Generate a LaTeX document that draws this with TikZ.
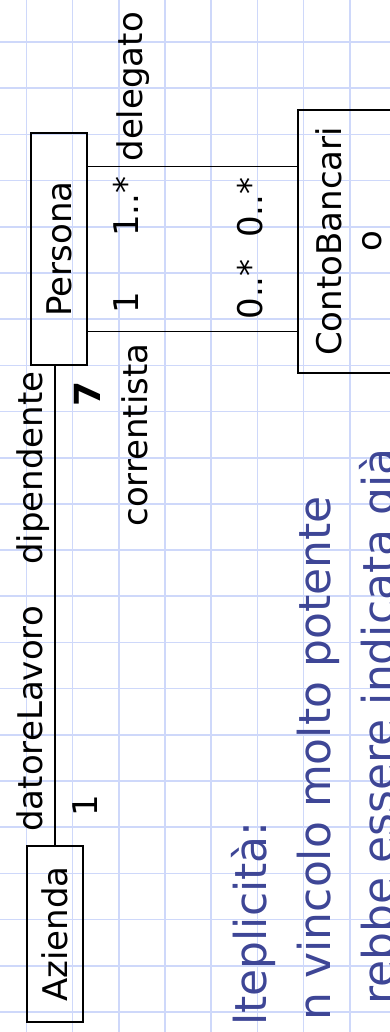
\documentclass[tikz,border=0pt]{standalone}
\usepackage{fontspec}
\setmainfont{DejaVu Sans}
\usepackage{tikz}
\usetikzlibrary{calc}
\definecolor{gridblue}{RGB}{206,216,250}
\definecolor{slideblue}{RGB}{62,70,150}
\tikzset{
    classbox/.style={draw, line width=1pt, inner sep=0pt, minimum height=28pt, font=\fontsize{17}{20}\selectfont, align=center},
    rolename/.style={inner sep=0pt, font=\fontsize{17}{20}\selectfont},
    bodytext/.style={inner sep=0pt, text=slideblue, font=\fontsize{22}{26}\selectfont},
    assoc/.style={line width=0.75pt},
    gridline/.style={gridblue, line width=0.8pt}
}

\begin{document}
\begin{tikzpicture}[x=0.5pt, y=0.5pt]
    \useasboundingbox (0,0) rectangle (390,1032);
    \clip (0,0) rectangle (390,1032);
    \begin{scope}[rotate=90, transform shape]
    % squared paper of the slide
    \foreach \i in {0,...,22}
        \draw[gridline] ({20+46.19*\i},10) -- ({20+46.19*\i},-400);
    \foreach \j in {0,...,8}
        \draw[gridline] (-10,{-26.5-46.19*\j}) -- (1040,{-26.5-46.19*\j});

    % classes
    \node (azienda) [classbox, minimum width=88pt] at (98,-55) {Azienda};
    \node (persona) [classbox, minimum width=116pt] at (783,-59) {Persona};
    \node (conto) [classbox, minimum width=131.5pt, anchor=north, inner ysep=8.8pt] at (790.5,-297) {ContoBancari\\o};

    % associations
    \draw[assoc] (azienda.east) -- ($(persona.north west)!(azienda.east)!(persona.south west)$);
    \coordinate (dlg) at ($(persona.south east)!0.147!(persona.south west)$);
    \coordinate (crr) at ($(persona.south west)!0.147!(persona.south east)$);
    \draw[assoc] (dlg) -- ($(conto.north west)!(dlg)!(conto.north east)$);
    \draw[assoc] (crr) -- ($(conto.north west)!(crr)!(conto.north east)$);

    % role names and multiplicities
    \node (datore) [rolename, anchor=base west] at (200,-42) {datoreLavoro};
    \node (dip) [rolename, anchor=base east] at (661,-42) {dipendente};
    \node (maz) [rolename, anchor=base west] at (215,-97) {1};
    \node (num) [rolename, anchor=base west, font=\fontsize{18}{20}\selectfont\bfseries] at (625,-100) {7};
    \node (corr) [rolename, anchor=base east] at (689,-147) {correntista};
    \node (deleg) [rolename, anchor=base west] at (870,-142) {delegato};
    \node (mcp) [rolename, anchor=base west] at (718,-138) {1};
    \node (mdp) [rolename, anchor=base east] at (856,-138) {1..*};
    \node (mcc) [rolename, anchor=base west] at (712,-262) {0..*};
    \node (mdc) [rolename, anchor=base east] at (855,-262) {0..*};

    % slide text
    \node (t1) [bodytext, anchor=base east] at (211,-266) {lteplicità:};
    \node (t2) [bodytext, anchor=base east] at (536,-330) {n vincolo molto potente};
    \node (t3) [bodytext, anchor=base east] at (584,-394) {rebbe essere indicata già};
    \end{scope}
\end{tikzpicture}
\end{document}
